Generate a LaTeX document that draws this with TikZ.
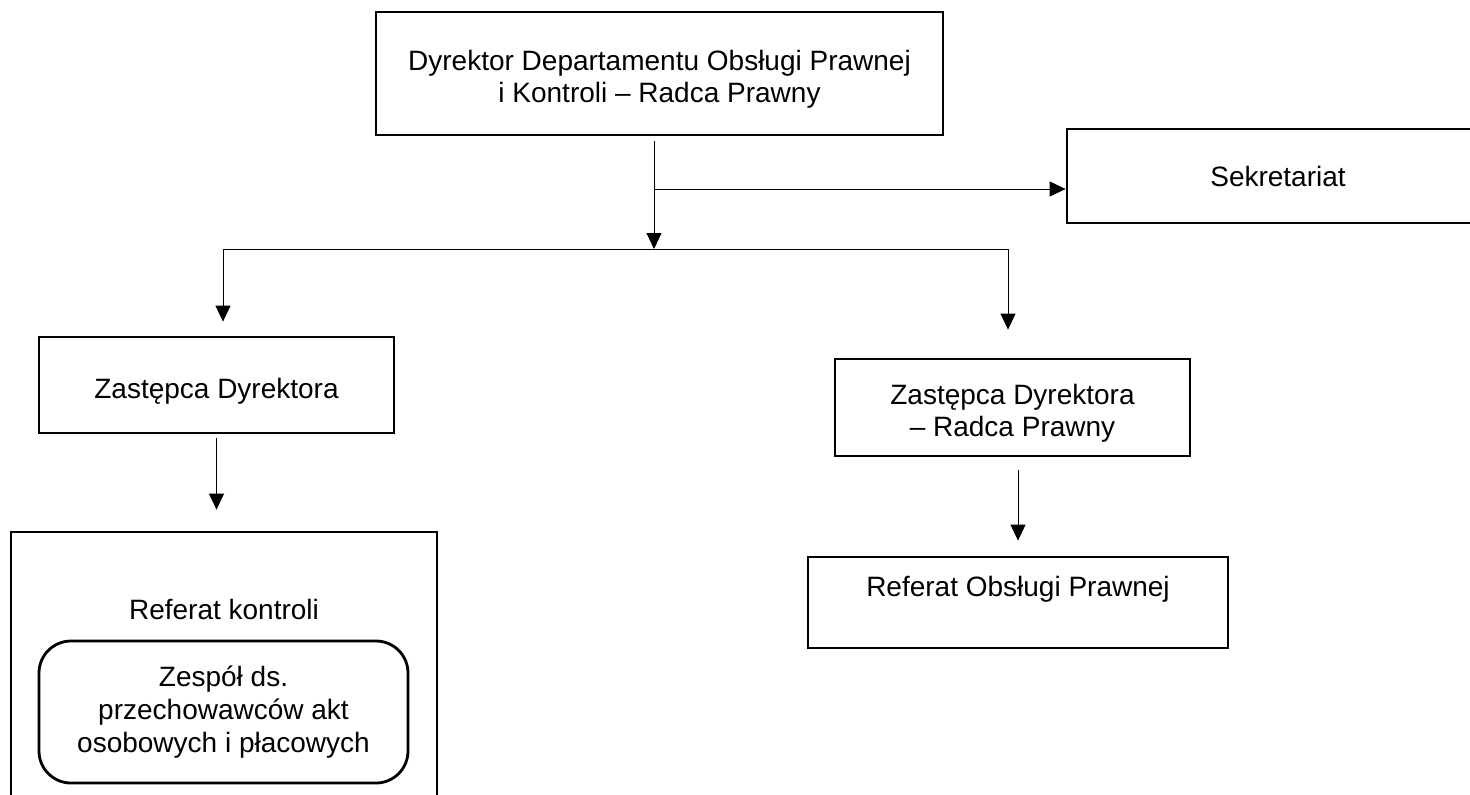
\documentclass[tikz,border=0pt]{standalone}
\usepackage{fontspec}
\setmainfont{Liberation Sans}
\usetikzlibrary{arrows.meta}

\tikzset{
  unit/.style={draw,line width=1.4pt,align=center,inner sep=0pt},
  team/.style={unit,rounded corners=16pt},
  arr/.style={line width=0.5pt,-{Triangle[length=8pt,width=7.5pt]}}
}
% lowered text that keeps its size
\newcommand{\lowtext}[2]{\raisebox{-#1}[\height][\depth]{\shortstack{#2}}}

\begin{document}
\begin{tikzpicture}[x=0.5pt,y=-0.5pt,font=\fontsize{14}{16.5}\selectfont]
\useasboundingbox (0,0) rectangle (1470,794);
\clip (0,0) rectangle (1470,794);

% Director
\node[unit,minimum width=283.5pt,minimum height=61.5pt] (dyr) at (659.5,73.5)
  {\lowtext{3pt}{Dyrektor Departamentu Obsługi Prawnej\\i Kontroli -- Radca Prawny}};

% Secretariat (runs off the page on the right)
\node[unit,minimum width=211pt,minimum height=47pt] (sek) at (1278,176) {Sekretariat};

% Deputies
\node[unit,minimum width=177.5pt,minimum height=48pt] (zd1) at (216.5,385)
  {\lowtext{3pt}{Zastępca Dyrektora}};
\node[unit,minimum width=177.5pt,minimum height=48.5pt] (zd2) at (1012.5,407.5)
  {\lowtext{3pt}{Zastępca Dyrektora\\-- Radca Prawny}};

% Units
\node[unit,minimum width=213pt,minimum height=139pt] (refk) at (224,671) {};
\node (refklbl) at (224,609) {Referat kontroli};
\node[team,minimum width=184.5pt,minimum height=71pt] (zesp) at (223.5,712)
  {Zespół ds.\\przechowawców akt\\osobowych i płacowych};
\node[unit,minimum width=210pt,minimum height=45.5pt] (refp) at (1018,602.5)
  {Referat Obsługi Prawnej\\~};

% Branch points
\coordinate (hub) at (654,249);
\coordinate (tap) at (654,189);
\coordinate (left) at (223,249);
\coordinate (right) at (1008,249);

% Connectors
\draw[arr,shorten <=2.5pt] (dyr.south -| hub) -- (hub);
\draw[arr] (tap) -- (tap -| sek.west);
\draw[line width=0.5pt] (left) -- (right);
\draw[arr,shorten >=7pt] (left) -- (left |- zd1.north);
\draw[arr,shorten >=14pt] (right) -- (right |- zd2.north);
\draw[arr,shorten <=2pt,shorten >=10.5pt] (zd1.south) -- (zd1.south |- refk.north);
\draw[arr,shorten <=6.5pt,shorten >=7.5pt] (zd2.south -| refp.north) -- (refp.north);
\end{tikzpicture}
\end{document}
